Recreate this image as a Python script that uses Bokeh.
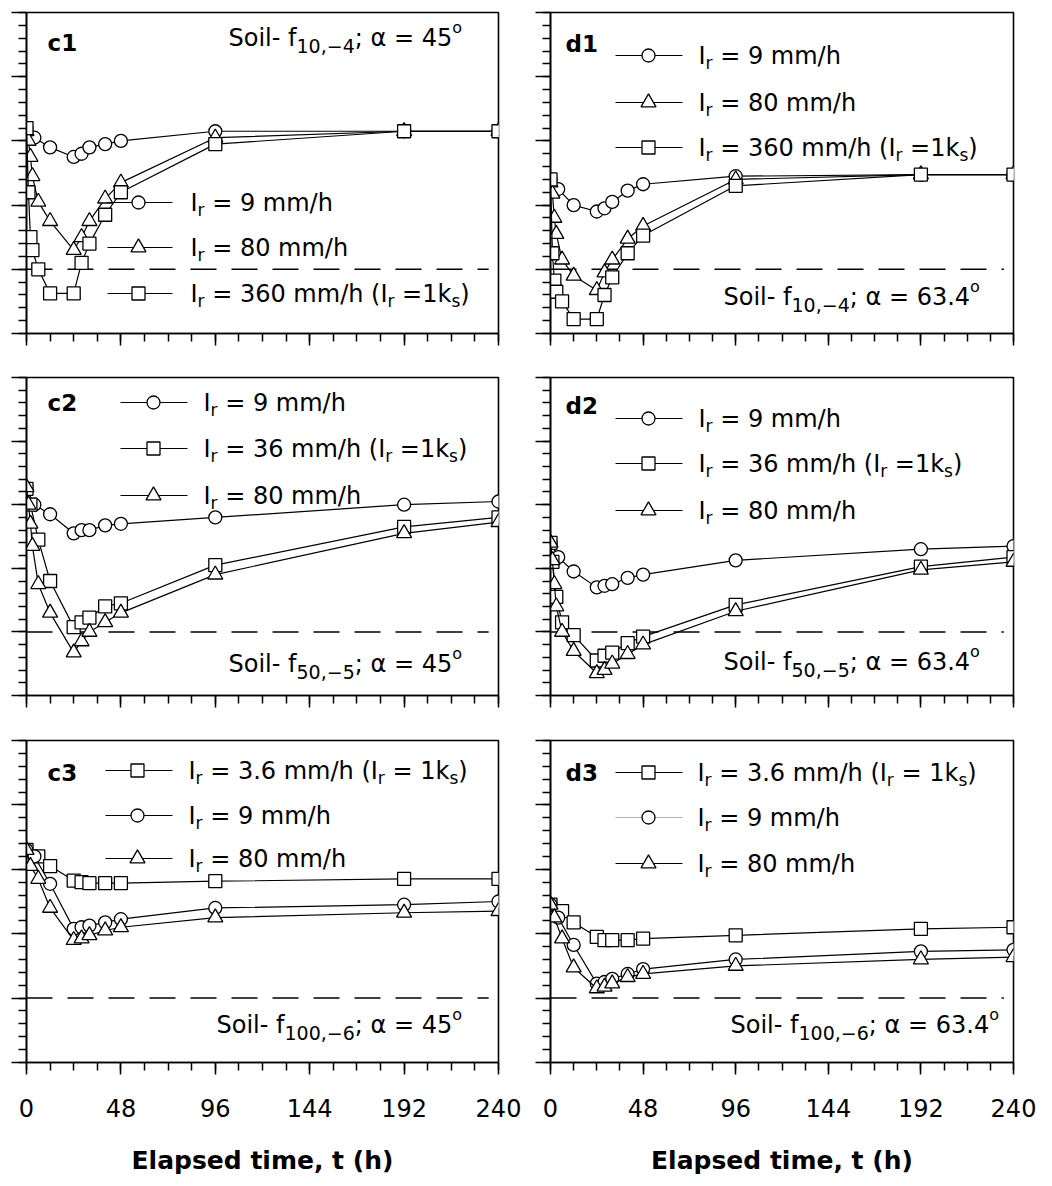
from bokeh.plotting import figure
from bokeh.models import Range1d, FixedTicker, Label, CustomJSTickFormatter
from bokeh.layouts import column, row
from bokeh.embed import file_html
from bokeh.resources import INLINE

FONT = "DejaVu Sans"

# ---------------------------------------------------------------------------
# Factor of safety vs. elapsed time (h) for three rainfall intensities
# ---------------------------------------------------------------------------
T_MAX = 240
Y_MIN, Y_MAX = 0.8, 1.8
FS_CRITICAL = 1.0

x_major = [0, 48, 96, 144, 192, 240]
x_minor = list(range(0, 241, 12))
y_major = [0.8, 1.0, 1.2, 1.4, 1.6, 1.8]
y_minor = [round(0.8 + 0.04 * i, 2) for i in range(26)]

# c1 : soil f10,-4, slope 45 deg
c1_t9 = [0, 4, 12, 24, 28, 32, 40, 48, 96, 192, 240]
c1_v9 = [1.44, 1.41, 1.38, 1.35, 1.36, 1.38, 1.39, 1.40, 1.43, 1.43, 1.43]
c1_t80 = [0, 1, 2, 3, 6, 12, 24, 28, 32, 40, 48, 96, 192, 240]
c1_v80 = [1.43, 1.40, 1.35, 1.29, 1.21, 1.15, 1.06, 1.10, 1.15, 1.22, 1.27, 1.41, 1.43, 1.43]
c1_t360 = [0, 1, 2, 3, 6, 12, 24, 28, 32, 40, 48, 96, 192, 240]
c1_v360 = [1.44, 1.24, 1.10, 1.06, 1.00, 0.925, 0.925, 1.02, 1.08, 1.17, 1.24, 1.39, 1.43, 1.43]

# d1 : soil f10,-4, slope 63.4 deg
d1_t9 = [0, 4, 12, 24, 28, 32, 40, 48, 96, 192, 240]
d1_v9 = [1.28, 1.25, 1.20, 1.18, 1.19, 1.21, 1.245, 1.265, 1.29, 1.295, 1.295]
d1_t80 = [0, 1, 2, 3, 6, 12, 24, 28, 32, 40, 48, 96, 192, 240]
d1_v80 = [1.27, 1.235, 1.16, 1.11, 1.03, 0.98, 0.935, 0.99, 1.03, 1.095, 1.135, 1.28, 1.295, 1.295]
d1_t360 = [0, 1, 2, 3, 6, 12, 24, 28, 32, 40, 48, 96, 192, 240]
d1_v360 = [1.28, 1.05, 0.965, 0.93, 0.90, 0.845, 0.845, 0.92, 0.975, 1.05, 1.105, 1.26, 1.295, 1.295]

# c2 : soil f50,-5, slope 45 deg
c2_t9 = [0, 4, 12, 24, 28, 32, 40, 48, 96, 192, 240]
c2_v9 = [1.45, 1.40, 1.37, 1.31, 1.32, 1.32, 1.335, 1.34, 1.36, 1.40, 1.41]
c2_t36 = [0, 2, 6, 12, 24, 28, 32, 40, 48, 96, 192, 240]
c2_v36 = [1.45, 1.40, 1.29, 1.16, 1.015, 1.03, 1.045, 1.08, 1.09, 1.21, 1.33, 1.36]
c2_t80 = [0, 1, 2, 3, 6, 12, 24, 28, 32, 40, 48, 96, 192, 240]
c2_v80 = [1.455, 1.40, 1.34, 1.27, 1.15, 1.06, 0.935, 0.97, 1.00, 1.03, 1.06, 1.18, 1.31, 1.345]

# d2 : soil f50,-5, slope 63.4 deg
d2_t9 = [0, 4, 12, 24, 28, 32, 40, 48, 96, 192, 240]
d2_v9 = [1.28, 1.235, 1.19, 1.14, 1.145, 1.15, 1.17, 1.18, 1.225, 1.26, 1.27]
d2_t36 = [0, 1, 3, 6, 12, 24, 28, 32, 40, 48, 96, 192, 240]
d2_v36 = [1.28, 1.22, 1.11, 1.03, 0.99, 0.91, 0.925, 0.935, 0.965, 0.985, 1.085, 1.205, 1.235]
d2_t80 = [0, 1, 2, 3, 6, 12, 24, 28, 32, 40, 48, 96, 192, 240]
d2_v80 = [1.28, 1.225, 1.15, 1.08, 1.00, 0.94, 0.87, 0.88, 0.90, 0.93, 0.96, 1.065, 1.195, 1.22]

# c3 : soil f100,-6, slope 45 deg
c3_t36 = [0, 6, 12, 24, 28, 32, 40, 48, 96, 192, 240]
c3_v36 = [1.46, 1.44, 1.41, 1.365, 1.36, 1.357, 1.357, 1.357, 1.363, 1.37, 1.37]
c3_t9 = [0, 4, 12, 24, 28, 32, 40, 48, 96, 192, 240]
c3_v9 = [1.46, 1.44, 1.355, 1.215, 1.22, 1.225, 1.235, 1.245, 1.28, 1.29, 1.30]
c3_t80 = [0, 2, 6, 12, 24, 28, 32, 40, 48, 96, 192, 240]
c3_v80 = [1.46, 1.41, 1.37, 1.28, 1.18, 1.185, 1.195, 1.21, 1.22, 1.25, 1.265, 1.27]

# d3 : soil f100,-6, slope 63.4 deg
d3_t36 = [0, 6, 12, 24, 28, 32, 40, 48, 96, 192, 240]
d3_v36 = [1.29, 1.27, 1.235, 1.19, 1.18, 1.18, 1.18, 1.185, 1.195, 1.215, 1.22]
d3_t9 = [0, 4, 12, 24, 28, 32, 40, 48, 96, 192, 240]
d3_v9 = [1.29, 1.25, 1.165, 1.045, 1.05, 1.06, 1.075, 1.09, 1.12, 1.145, 1.15]
d3_t80 = [0, 2, 6, 12, 24, 28, 32, 40, 48, 96, 192, 240]
d3_v80 = [1.29, 1.25, 1.185, 1.095, 1.03, 1.035, 1.045, 1.065, 1.075, 1.10, 1.12, 1.127]

# ---------------------------------------------------------------------------
# text helpers (runs of normal / subscript / superscript text)
# ---------------------------------------------------------------------------
CHAR_W = {' ': 0.318, '-': 0.361, '\u2013': 0.5, '\u2212': 0.838, ',': 0.318,
          '.': 0.318, ';': 0.337, '=': 0.838, '(': 0.390, ')': 0.390,
          '/': 0.337, 'S': 0.635, 'o': 0.612, 'i': 0.278, 'l': 0.278,
          'f': 0.352, 'm': 0.974, 'h': 0.634, 'k': 0.579, 's': 0.521,
          'r': 0.411, 'I': 0.295, '\u03b1': 0.659}
SIZES = {"n": 24, "sub": 17, "sub2": 19, "sup": 16}
SHIFT = {"n": 0, "sub": 7, "sub2": 8, "sup": -10}


def text_width(s, size):
    return sum(CHAR_W.get(ch, 0.636) for ch in s) * size


def put_runs(p, fh, dx, dy, runs, color="black"):
    """Write text runs starting at (dx, dy) pixels from the frame's top-left."""
    x = dx
    for txt, kind in runs:
        size = SIZES[kind]
        # leading blanks are collapsed in SVG text, so turn them into an offset
        body = txt.lstrip(" ")
        x += text_width(txt[:len(txt) - len(body)], size)
        yv = Y_MIN + (fh - dy - SHIFT[kind]) / fh * (Y_MAX - Y_MIN)
        p.add_layout(Label(x=0, y=yv, x_offset=x, text=body, text_font=FONT,
                           text_font_size=f"{size}px", text_baseline="middle",
                           text_align="left", text_color=color))
        x += text_width(body, size)


def ir_runs(rate, note=None):
    runs = [("I", "n"), ("r", "sub"), (f" = {rate} mm/h", "n")]
    if note:
        runs += [(" (I", "n"), ("r", "sub"), (note, "n"), ("s", "sub"), (")", "n")]
    return runs


def soil_runs(sub, angle):
    return [("Soil- f", "n"), (sub, "sub2"), (f"; \u03b1 = {angle}", "n"), ("o", "sup")]


MARK = dict(circle=13, square=13, triangle=15)


def series(p, t, v, marker):
    p.line(t, v, line_color="black", line_width=1.2)
    p.scatter(t, v, marker=marker, size=MARK[marker], fill_color="white",
              line_color="black", line_width=1.3)


def legend_row(p, fw, fh, x1, x2, xm, dy, marker, line_color="black", lw=1.2):
    yv = Y_MIN + (fh - dy) / fh * (Y_MAX - Y_MIN)
    xs = [x1 / fw * T_MAX, x2 / fw * T_MAX]
    p.line(xs, [yv, yv], line_color=line_color, line_width=lw)
    p.scatter([xm / fw * T_MAX], [yv], marker=marker, size=MARK[marker],
              fill_color="white", line_color="black", line_width=1.3)


BLANK = CustomJSTickFormatter(code="return ''")


def make_panel(fw, fh, top, bottom, left, right, bottom_row):
    p = figure(frame_width=fw, frame_height=fh,
               x_range=Range1d(0, T_MAX), y_range=Range1d(Y_MIN, Y_MAX),
               output_backend="svg", toolbar_location=None,
               min_border_top=top, min_border_bottom=bottom,
               min_border_left=left, min_border_right=right)
    p.xgrid.visible = False
    p.ygrid.visible = False
    p.outline_line_color = "black"
    p.outline_line_width = 1.6
    p.outline_line_alpha = 1.0
    p.background_fill_color = "white"
    p.border_fill_color = "white"

    xa = p.xaxis[0]
    xa.ticker = FixedTicker(ticks=x_major, minor_ticks=x_minor)
    xa.axis_line_width = 1.6
    xa.major_tick_line_width = 1.5
    xa.minor_tick_line_width = 1.5
    xa.major_tick_in = 0
    xa.major_tick_out = 12
    xa.minor_tick_in = 0
    xa.minor_tick_out = 8
    xa.major_label_text_font = FONT
    xa.major_label_text_color = "black"
    if bottom_row:
        xa.major_label_text_font_size = "24px"
        xa.major_label_standoff = 24
        xa.axis_label = "Elapsed time, t (h)"
        xa.axis_label_text_font = FONT
        xa.axis_label_text_font_size = "25px"
        xa.axis_label_text_font_style = "bold"
        xa.axis_label_text_color = "black"
        xa.axis_label_standoff = 26
    else:
        xa.formatter = BLANK
        xa.major_label_standoff = 0

    ya = p.yaxis[0]
    ya.ticker = FixedTicker(ticks=y_major, minor_ticks=y_minor)
    ya.formatter = BLANK
    ya.axis_line_width = 1.6
    ya.major_tick_line_width = 1.5
    ya.minor_tick_line_width = 1.5
    ya.major_tick_in = 0
    ya.major_tick_out = 15
    ya.minor_tick_in = 0
    ya.minor_tick_out = 8
    ya.major_label_standoff = 0

    # critical factor of safety
    p.line([0, 235], [FS_CRITICAL, FS_CRITICAL], line_color="black",
           line_width=1.5, line_dash="26 15")
    return p


def tag(p, fh, dx, dy, txt):
    yv = Y_MIN + (fh - dy) / fh * (Y_MAX - Y_MIN)
    p.add_layout(Label(x=0, y=yv, x_offset=dx, text=txt, text_font=FONT,
                       text_font_size="23px", text_font_style="bold",
                       text_baseline="middle", text_color="black"))


LW, RW = 472, 463            # frame widths, left / right column
H1, H2, H3 = 321, 318, 322   # frame heights per row
MINUS = "\u2212"

# ---------------- row 1 ----------------
c1 = make_panel(LW, H1, 12, 22, 26, 26, False)
series(c1, c1_t9, c1_v9, "circle")
series(c1, c1_t80, c1_v80, "triangle")
series(c1, c1_t360, c1_v360, "square")
tag(c1, H1, 21, 30, "c1")
put_runs(c1, H1, 202, 25, soil_runs(f"10,{MINUS}4", "45"))
legend_row(c1, LW, H1, 81, 146, 112, 190, "circle")
legend_row(c1, LW, H1, 81, 146, 112, 235, "triangle")
legend_row(c1, LW, H1, 81, 146, 112, 281, "square")
put_runs(c1, H1, 164, 190, ir_runs("9"))
put_runs(c1, H1, 164, 235, ir_runs("80"))
put_runs(c1, H1, 164, 281, ir_runs("360", " =1k"))

d1 = make_panel(RW, H1, 12, 22, 26, 37, False)
series(d1, d1_t9, d1_v9, "circle")
series(d1, d1_t80, d1_v80, "triangle")
series(d1, d1_t360, d1_v360, "square")
tag(d1, H1, 15, 31, "d1")
put_runs(d1, H1, 173, 284, soil_runs(f"10,{MINUS}4", "63.4"))
legend_row(d1, RW, H1, 65, 132, 98, 43, "circle")
legend_row(d1, RW, H1, 65, 132, 98, 90, "triangle")
legend_row(d1, RW, H1, 65, 132, 98, 135, "square")
put_runs(d1, H1, 148, 43, ir_runs("9"))
put_runs(d1, H1, 148, 90, ir_runs("80"))
put_runs(d1, H1, 148, 135, ir_runs("360", " =1k"))

# ---------------- row 2 ----------------
c2 = make_panel(LW, H2, 22, 23, 26, 26, False)
series(c2, c2_t9, c2_v9, "circle")
series(c2, c2_t36, c2_v36, "square")
series(c2, c2_t80, c2_v80, "triangle")
tag(c2, H2, 21, 25, "c2")
put_runs(c2, H2, 202, 286, soil_runs(f"50,{MINUS}5", "45"))
legend_row(c2, LW, H2, 94, 161, 127, 25, "circle")
legend_row(c2, LW, H2, 94, 161, 127, 71, "square")
legend_row(c2, LW, H2, 94, 161, 127, 118, "triangle")
put_runs(c2, H2, 177, 25, ir_runs("9"))
put_runs(c2, H2, 177, 71, ir_runs("36", " =1k"))
put_runs(c2, H2, 177, 118, ir_runs("80"))

d2 = make_panel(RW, H2, 22, 23, 26, 37, False)
series(d2, d2_t9, d2_v9, "circle")
series(d2, d2_t36, d2_v36, "square")
series(d2, d2_t80, d2_v80, "triangle")
tag(d2, H2, 15, 28, "d2")
put_runs(d2, H2, 173, 284, soil_runs(f"50,{MINUS}5", "63.4"))
legend_row(d2, RW, H2, 65, 132, 98, 41, "circle")
legend_row(d2, RW, H2, 65, 132, 98, 86, "square")
legend_row(d2, RW, H2, 65, 132, 98, 133, "triangle")
put_runs(d2, H2, 148, 41, ir_runs("9"))
put_runs(d2, H2, 148, 86, ir_runs("36", " =1k"))
put_runs(d2, H2, 148, 133, ir_runs("80"))

# ---------------- row 3 ----------------
c3 = make_panel(LW, H3, 22, 124, 26, 26, True)
series(c3, c3_t36, c3_v36, "square")
series(c3, c3_t9, c3_v9, "circle")
series(c3, c3_t80, c3_v80, "triangle")
tag(c3, H3, 21, 32, "c3")
put_runs(c3, H3, 190, 284, soil_runs(f"100,{MINUS}6", "45"))
legend_row(c3, LW, H3, 79, 146, 111, 30, "square")
legend_row(c3, LW, H3, 79, 146, 111, 75, "circle")
legend_row(c3, LW, H3, 79, 146, 111, 118, "triangle")
put_runs(c3, H3, 162, 30, ir_runs("3.6", " = 1k"))
put_runs(c3, H3, 162, 75, ir_runs("9"))
put_runs(c3, H3, 162, 118, ir_runs("80"))

d3 = make_panel(RW, H3, 22, 124, 26, 37, True)
series(d3, d3_t36, d3_v36, "square")
series(d3, d3_t9, d3_v9, "circle")
series(d3, d3_t80, d3_v80, "triangle")
tag(d3, H3, 15, 32, "d3")
put_runs(d3, H3, 180, 284, soil_runs(f"100,{MINUS}6", "63.4"))
legend_row(d3, RW, H3, 65, 132, 98, 32, "square")
legend_row(d3, RW, H3, 65, 132, 98, 77, "circle", line_color="#9a9a9a", lw=0.8)
legend_row(d3, RW, H3, 65, 132, 98, 123, "triangle")
put_runs(d3, H3, 147, 32, ir_runs("3.6", " = 1k"))
put_runs(d3, H3, 147, 77, ir_runs("9"))
put_runs(d3, H3, 147, 123, ir_runs("80"))

layout = column(row(c1, d1), row(c2, d2), row(c3, d3))

with open("out.html", "w") as f:
    f.write(file_html(layout, INLINE))
